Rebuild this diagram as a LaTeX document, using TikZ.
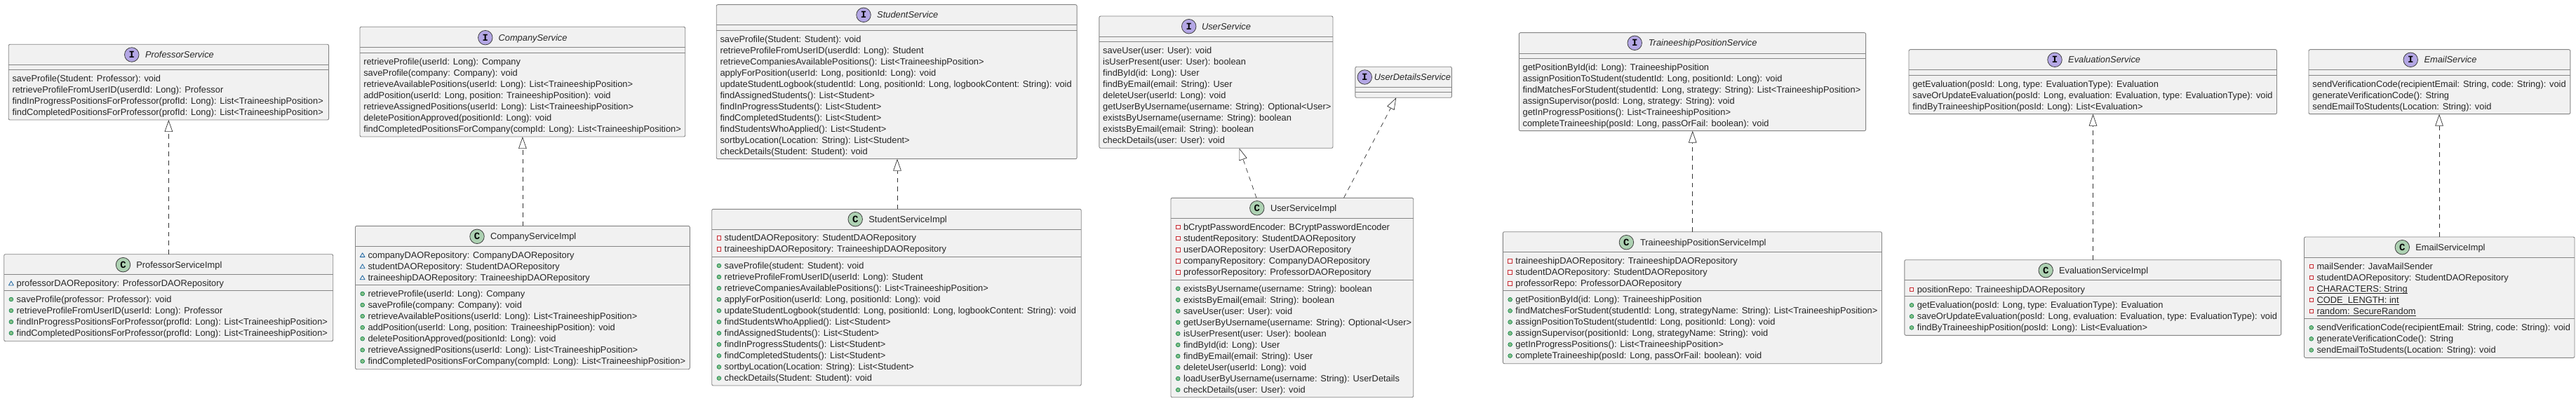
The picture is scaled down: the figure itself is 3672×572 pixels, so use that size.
\documentclass[tikz,border=0pt]{standalone}
\usepackage{fontspec}
\setmainfont{Liberation Sans}
\newfontfamily\iconfont{Liberation Mono}
\usetikzlibrary{arrows.meta,calc}
\definecolor{boxfill}{HTML}{F1F1F1}
\definecolor{boxline}{HTML}{858585}
\definecolor{inktext}{HTML}{262626}
\definecolor{ifacefill}{HTML}{B4A7E5}
\definecolor{classfill}{HTML}{ADD1B2}
\definecolor{pubfill}{HTML}{84BE84}
\definecolor{publine}{HTML}{038048}
\definecolor{priline}{HTML}{C82930}
\definecolor{pkgline}{HTML}{1963A0}
\tikzset{
  classbox/.style={draw=boxline,fill=boxfill,line width=0.9pt,rounded corners=2pt,inner sep=0pt,outer sep=0pt},
  sepline/.style={draw=boxline,line width=0.9pt},
  membertxt/.style={anchor=base west,inner sep=0pt,outer sep=0pt,text=inktext,font=\fontsize{12.85pt}{16pt}\selectfont},
  titletxt/.style={anchor=base west,inner sep=0pt,outer sep=0pt,text=inktext,font=\fontsize{12.85pt}{16pt}\selectfont},
  titleital/.style={titletxt,font=\fontsize{12.85pt}{16pt}\selectfont\itshape},
  badge/.style={circle,draw=black!75,line width=0.8pt,minimum size=20.5pt,inner sep=0pt,outer sep=0pt,text=black,font=\iconfont\bfseries\fontsize{14pt}{14pt}\selectfont},
  realize/.style={draw=black!80,line width=0.7pt,dash pattern=on 6.7pt off 6pt,-{Triangle[open,length=17pt,width=11.6pt,line width=0.7pt]}},
}
\newcommand\statictxt[1]{\setbox0=\hbox{#1}\rlap{\rule[-2.2pt]{\wd0}{0.8pt}}\box0\relax}
\newcommand\classrect[5]{%
  \pgfmathsetmacro\qbw{#3-#2}\pgfmathsetmacro\qbh{#5-#4}%
  \node[classbox,minimum width=\qbw pt,minimum height=\qbh pt] (#1) at ({(#2+#3)/2},{-(#4+#5)/2}) {};}
\newcommand\compline[2]{\draw[sepline] (#1.west |- 0,-#2) -- (#1.east |- 0,-#2);}
\newcommand\ifacehead[5]{%
  \node[badge,fill=ifacefill] (#1-icon) at (#2,-#3) {I};
  \node[titleital] (#1-title) at (#4,{-#3-4.4}) {#5};}
\newcommand\classhead[5]{%
  \node[badge,fill=classfill] (#1-icon) at (#2,-#3) {C};
  \node[titletxt] (#1-title) at (#4,{-#3-4.4}) {#5};}
\newcommand\iconpub[2]{\fill[pubfill,draw=publine,line width=0.6pt] ({#1},#2) circle (2.9pt);}
\newcommand\iconpri[2]{\draw[priline,fill=white!60!boxfill,line width=0.8pt] ({#1-2.8},{#2-2.8}) rectangle ({#1+2.8},{#2+2.8});}
\newcommand\iconpkg[2]{\draw[pkgline,line width=0.8pt,line join=round] ({#1-3.4},{#2-2.6}) -- ({#1+3.4},{#2-2.6}) -- ({#1},{#2+3.2}) -- cycle;}
% prefix, box left, first line y, kind (pub/pri/pkg), list
\newcommand\memberlist[5]{%
  \foreach \t [count=\i] in {#5} {%
    \pgfmathsetmacro\yy{-(#3+(\i-1)*16.05)}%
    \pgfmathsetmacro\ybase{\yy-4.4}%
    \csname icon#4\endcsname{#2+10.2}{\yy}%
    \node[membertxt] (#1-\i) at ({#2+18},\ybase) {\t};
  }}
\newcommand\ifacelist[4]{%
  \foreach \t [count=\i] in {#4} {%
    \pgfmathsetmacro\ybase{-(#3+(\i-1)*16.05)-4.4}%
    \node[membertxt] (#1-\i) at ({#2+5.3},\ybase) {\t};
  }}
\begin{document}
\begin{tikzpicture}[x=1pt,y=1pt]
\useasboundingbox (0,0) rectangle (3672,-572);
\fill[white] (0,0) rectangle (3672,-572);

% ---------- ProfessorService
\classrect{ps}{12.2}{468.6}{63.3}{171}
\compline{ps}{92.3}\compline{ps}{99.7}
\ifacehead{ps}{187.8}{78}{207}{ProfessorService}
\ifacelist{psm}{12.2}{112.2}{saveProfile(Student: Professor): void,retrieveProfileFromUserID(userdId: Long): Professor,findInProgressPositionsForProfessor(profId: Long): List<TraineeshipPosition>,findCompletedPositionsForProfessor(profId: Long): List<TraineeshipPosition>}

\classrect{pi}{5.7}{474.7}{362.7}{486.7}
\compline{pi}{391.7}\compline{pi}{414.3}
\classhead{pi}{175.5}{377.7}{194.3}{ProfessorServiceImpl}
\memberlist{pia}{5.7}{404.3}{pkg}{professorDAORepository: ProfessorDAORepository}
\memberlist{pim}{5.7}{427}{pub}{saveProfile(professor: Professor): void,retrieveProfileFromUserID(userId: Long): Professor,findInProgressPositionsForProfessor(profId: Long): List<TraineeshipPosition>,findCompletedPositionsForProfessor(profId: Long): List<TraineeshipPosition>}

% ---------- CompanyService
\classrect{cs}{513}{976.7}{38.3}{195}
\compline{cs}{67.7}\compline{cs}{75.3}
\ifacehead{cs}{691.8}{53.7}{710.6}{CompanyService}
\ifacelist{csm}{513}{87.7}{retrieveProfile(userId: Long): Company,saveProfile(company: Company): void,retrieveAvailablePositions(userId: Long): List<TraineeshipPosition>,{addPosition(userId: Long, position: TraineeshipPosition): void},retrieveAssignedPositions(userId: Long): List<TraineeshipPosition>,deletePositionApproved(positionId: Long): void,findCompletedPositionsForCompany(compId: Long): List<TraineeshipPosition>}

\classrect{ci}{506.5}{983.3}{322.3}{526.7}
\compline{ci}{351.7}\compline{ci}{406.7}
\classhead{ci}{680}{337.3}{699.2}{CompanyServiceImpl}
\memberlist{cia}{506.5}{364}{pkg}{companyDAORepository: CompanyDAORepository,studentDAORepository: StudentDAORepository,traineeshipDAORepository: TraineeshipDAORepository}
\memberlist{cim}{506.5}{419}{pub}{retrieveProfile(userId: Long): Company,saveProfile(company: Company): void,retrieveAvailablePositions(userId: Long): List<TraineeshipPosition>,{addPosition(userId: Long, position: TraineeshipPosition): void},deletePositionApproved(positionId: Long): void,retrieveAssignedPositions(userId: Long): List<TraineeshipPosition>,findCompletedPositionsForCompany(compId: Long): List<TraineeshipPosition>}

% ---------- StudentService
\classrect{ss}{1021.2}{1535.1}{6.7}{226.7}
\compline{ss}{35.7}\compline{ss}{43.3}
\ifacehead{ss}{1231}{21.3}{1250.2}{StudentService}
\ifacelist{ssm}{1021.2}{56}{saveProfile(Student: Student): void,retrieveProfileFromUserID(userdId: Long): Student,retrieveCompaniesAvailablePositions(): List<TraineeshipPosition>,{applyForPosition(userId: Long, positionId: Long): void},{updateStudentLogbook(studentId: Long, positionId: Long, logbookContent: String): void},findAssignedStudents(): List<Student>,findInProgressStudents(): List<Student>,findCompletedStudents(): List<Student>,findStudentsWhoApplied(): List<Student>,sortbyLocation(Location: String): List<Student>,checkDetails(Student: Student): void}

\classrect{si}{1014.7}{1541.2}{298.3}{550}
\compline{si}{327.3}\compline{si}{366}
\classhead{si}{1219.2}{312.7}{1238.4}{StudentServiceImpl}
\memberlist{sia}{1014.7}{339.5}{pri}{studentDAORepository: StudentDAORepository,traineeshipDAORepository: TraineeshipDAORepository}
\memberlist{sim}{1014.7}{379}{pub}{saveProfile(student: Student): void,retrieveProfileFromUserID(userId: Long): Student,retrieveCompaniesAvailablePositions(): List<TraineeshipPosition>,{applyForPosition(userId: Long, positionId: Long): void},{updateStudentLogbook(studentId: Long, positionId: Long, logbookContent: String): void},findStudentsWhoApplied(): List<Student>,findAssignedStudents(): List<Student>,findInProgressStudents(): List<Student>,findCompletedStudents(): List<Student>,sortbyLocation(Location: String): List<Student>,checkDetails(Student: Student): void}

% ---------- UserService
\classrect{us}{1566.9}{1900}{23}{211.3}
\compline{us}{52.3}\compline{us}{59.7}
\ifacehead{us}{1694.7}{37.7}{1713}{UserService}
\ifacelist{usm}{1566.9}{72.2}{saveUser(user: User): void,isUserPresent(user: User): boolean,findById(id: Long): User,findByEmail(email: String): User,deleteUser(userId: Long): void,getUserByUsername(username: String): Optional<User>,existsByUsername(username: String): boolean,existsByEmail(email: String): boolean,checkDetails(user: User): void}

\classrect{ud}{1931.8}{2069.4}{95.3}{139.3}
\compline{ud}{124.3}\compline{ud}{131.7}
\ifacehead{ud}{1945.3}{110}{1958.8}{UserDetailsService}

\classrect{ui}{1669}{2014.7}{282.3}{566.7}
\compline{ui}{311.3}\compline{ui}{399}
\classhead{ui}{1791.8}{296.8}{1811}{UserServiceImpl}
\memberlist{uia}{1669}{324}{pri}{bCryptPasswordEncoder: BCryptPasswordEncoder,studentRepository: StudentDAORepository,userDAORepository: UserDAORepository,companyRepository: CompanyDAORepository,professorRepository: ProfessorDAORepository}
\memberlist{uim}{1669}{411.7}{pub}{existsByUsername(username: String): boolean,existsByEmail(email: String): boolean,saveUser(user: User): void,getUserByUsername(username: String): Optional<User>,isUserPresent(user: User): boolean,findById(id: Long): User,findByEmail(email: String): User,deleteUser(userId: Long): void,loadUserByUsername(username: String): UserDetails,checkDetails(user: User): void}

% ---------- TraineeshipPositionService
\classrect{ts}{2165.3}{2659.6}{46.7}{186.7}
\compline{ts}{76}\compline{ts}{83.3}
\ifacehead{ts}{2330.2}{61.3}{2349.8}{TraineeshipPositionService}
\ifacelist{tsm}{2165.3}{96}{getPositionById(id: Long): TraineeshipPosition,{assignPositionToStudent(studentId: Long, positionId: Long): void},{findMatchesForStudent(studentId: Long, strategy: String): List<TraineeshipPosition>},{assignSupervisor(posId: Long, strategy: String): void},getInProgressPositions(): List<TraineeshipPosition>,{completeTraineeship(posId: Long, passOrFail: boolean): void}}

\classrect{ti}{2142.4}{2682.5}{330.7}{518.7}
\compline{ti}{359.7}\compline{ti}{414.3}
\classhead{ti}{2318.4}{345.7}{2338}{TraineeshipPositionServiceImpl}
\memberlist{tia}{2142.4}{372.3}{pri}{traineeshipDAORepository: TraineeshipDAORepository,studentDAORepository: StudentDAORepository,professorRepo: ProfessorDAORepository}
\memberlist{tim}{2142.4}{427.3}{pub}{getPositionById(id: Long): TraineeshipPosition,{findMatchesForStudent(studentId: Long, strategyName: String): List<TraineeshipPosition>},{assignPositionToStudent(studentId: Long, positionId: Long): void},{assignSupervisor(positionId: Long, strategyName: String): void},getInProgressPositions(): List<TraineeshipPosition>,{completeTraineeship(posId: Long, passOrFail: boolean): void}}

% ---------- EvaluationService
\classrect{es}{2721}{3245.5}{70.7}{162.7}
\compline{es}{99.3}\compline{es}{107}
\ifacehead{es}{2929}{85.3}{2948.2}{EvaluationService}
\ifacelist{esm}{2721}{119.7}{{getEvaluation(posId: Long, type: EvaluationType): Evaluation},{saveOrUpdateEvaluation(posId: Long, evaluation: Evaluation, type: EvaluationType): void},findByTraineeshipPosition(posId: Long): List<Evaluation>}

\classrect{ei}{2714.8}{3251.6}{370.7}{478.3}
\compline{ei}{399.7}\compline{ei}{422.7}
\classhead{ei}{2916.2}{385.7}{2935}{EvaluationServiceImpl}
\memberlist{eia}{2714.8}{412.7}{pri}{positionRepo: TraineeshipDAORepository}
\memberlist{eim}{2714.8}{435.3}{pub}{{getEvaluation(posId: Long, type: EvaluationType): Evaluation},{saveOrUpdateEvaluation(posId: Long, evaluation: Evaluation, type: EvaluationType): void},findByTraineeshipPosition(posId: Long): List<Evaluation>}

% ---------- EmailService
\classrect{ms}{3291}{3663.8}{70.7}{162.7}
\compline{ms}{99.3}\compline{ms}{107}
\ifacehead{ms}{3436.2}{85.3}{3455.5}{EmailService}
\ifacelist{msm}{3291}{119.7}{{sendVerificationCode(recipientEmail: String, code: String): void},generateVerificationCode(): String,sendEmailToStudents(Location: String): void}

\classrect{mi}{3284.5}{3670}{338}{510.3}
\compline{mi}{367.3}\compline{mi}{454.7}
\classhead{mi}{3424.3}{352.7}{3443.3}{EmailServiceImpl}
\memberlist{mia}{3284.5}{379.7}{pri}{mailSender: JavaMailSender,studentDAORepository: StudentDAORepository,\statictxt{CHARACTERS: String},\statictxt{CODE\_LENGTH: int},\statictxt{random: SecureRandom}}
\memberlist{mim}{3284.5}{467.3}{pub}{{sendVerificationCode(recipientEmail: String, code: String): void},generateVerificationCode(): String,sendEmailToStudents(Location: String): void}

% ---------- realization connectors
\coordinate (xp) at (240.4,0);
\coordinate (xc) at (744.9,0);
\coordinate (xs) at (1279,0);
\coordinate (xus) at (1766.5,0);
\coordinate (xui) at (1791,0);
\coordinate (xud) at (1990.2,0);
\coordinate (xuj) at (1915.5,0);
\coordinate (xt) at (2412.7,0);
\coordinate (xe) at (2983.5,0);
\coordinate (xm) at (3477,0);
\draw[realize] (pi.north -| xp) -- (ps.south -| xp);
\draw[realize] (ci.north -| xc) -- (cs.south -| xc);
\draw[realize] (si.north -| xs) -- (ss.south -| xs);
\draw[realize] (ui.north -| xui) -- (us.south -| xus);
\draw[realize] (ui.north -| xuj) -- (ud.south -| xud);
\draw[realize] (ti.north -| xt) -- (ts.south -| xt);
\draw[realize] (ei.north -| xe) -- (es.south -| xe);
\draw[realize] (mi.north -| xm) -- (ms.south -| xm);
\end{tikzpicture}
\end{document}
